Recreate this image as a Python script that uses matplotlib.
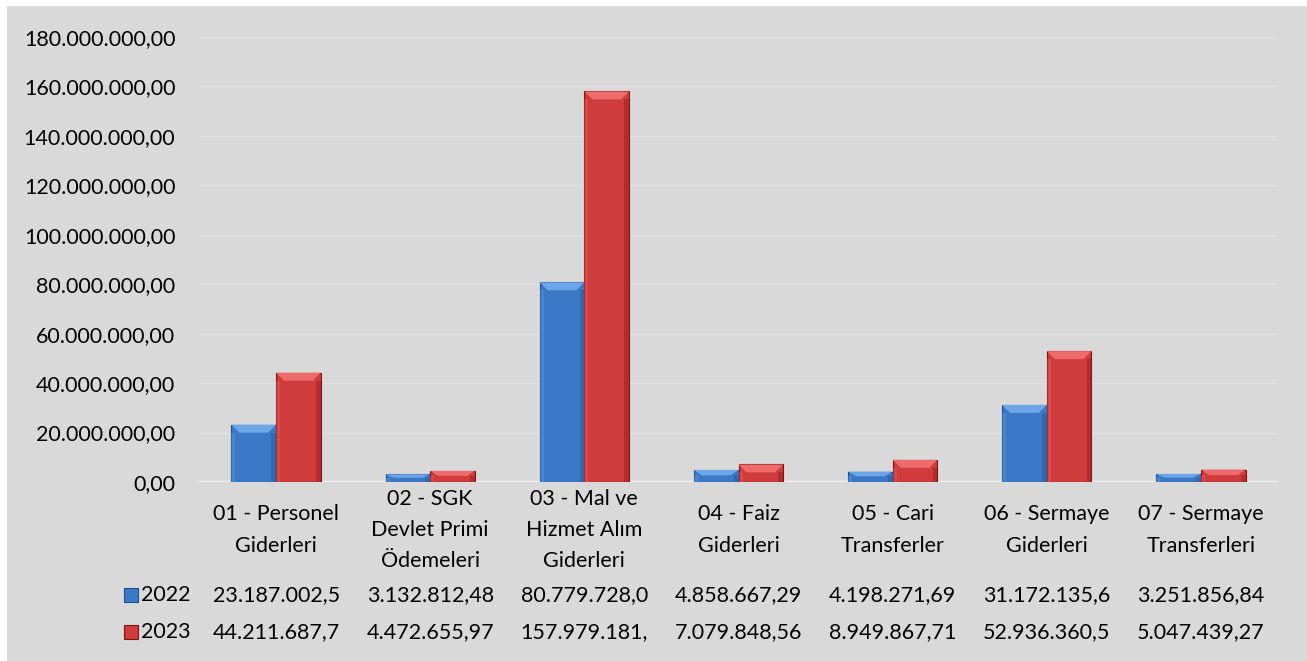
import matplotlib.pyplot as plt
from matplotlib.patches import Rectangle, Polygon
import numpy as np

# === DATA ===
categories = [
    "01 - Personel\nGiderleri",
    "02 - SGK\nDevlet Primi\nÖdemeleri",
    "03 - Mal ve\nHizmet Alım\nGiderleri",
    "04 - Faiz\nGiderleri",
    "05 - Cari\nTransferler",
    "06 - Sermaye\nGiderleri",
    "07 - Sermaye\nTransferleri",
]
series_names = ["2022", "2023"]
values_2022 = [23187002.50, 3132812.48, 80779728.00, 4858667.29,
               4198271.69, 31172135.60, 3251856.84]
values_2023 = [44211687.70, 4472655.97, 157979181.00, 7079848.56,
               8949867.71, 52936360.50, 5047439.27]
y_ticks = [0, 20e6, 40e6, 60e6, 80e6, 100e6, 120e6, 140e6, 160e6, 180e6]

# === STYLE ===
BG = "#D9D9D9"
FONT = "Lato"
FS = 15.5
colors = {"2022": ("#3B78C6", "#6CA5E8", "#1F4E8C"),
          "2023": ("#D03B3B", "#EE6B6B", "#7E1515")}


def tr_fmt(v, dec=2):
    s = f"{v:,.{dec}f}"
    return s.replace(",", "X").replace(".", ",").replace("X", ".")


W, H = 1307, 661
fig = plt.figure(figsize=(W / 100, H / 100), dpi=100)
fig.patch.set_facecolor("white")
fig.add_artist(Rectangle((7 / W, 0), 1 - 7 / W, 1 - 6 / H,
                         transform=fig.transFigure, facecolor=BG,
                         edgecolor="none", zorder=-10))

left, right = 199 / W, 1278 / W
bottom, top = 1 - 482 / H, 1 - 37 / H
ax = fig.add_axes([left, bottom, right - left, top - bottom])
ax.set_facecolor("none")

n = len(categories)
x = np.arange(n)
bw = 0.29
ax.set_xlim(-0.5, n - 0.5)
ax.set_ylim(0, 180e6)

for y in y_ticks[1:]:
    ax.axhline(y, color="#E0E0E0", lw=1, zorder=0)
ax.axhline(0, color="#EFEFEF", lw=2.5, zorder=1)

# beveled bars
for vals, name, off in [(values_2022, "2022", -bw / 2), (values_2023, "2023", bw / 2)]:
    base, light, dark = colors[name]
    bars = ax.bar(x + off, vals, width=bw, color=base, edgecolor=dark,
                  linewidth=0.8, zorder=3)
    for b in bars:
        bx, by, bwid, bh = b.get_x(), b.get_y(), b.get_width(), b.get_height()
        bev_x = bwid * 0.18
        bev_y = min(180e6 * 0.018, bh * 0.45)
        top_y = by + bh
        ax.add_patch(Polygon([(bx, top_y), (bx + bwid, top_y),
                              (bx + bwid - bev_x, top_y - bev_y),
                              (bx + bev_x, top_y - bev_y)],
                             closed=True, facecolor=light, edgecolor="none", zorder=4))
        ax.add_patch(Rectangle((bx + bwid - bev_x * 0.6, by), bev_x * 0.6, bh - bev_y,
                               facecolor=dark, alpha=0.35, edgecolor="none", zorder=4))
        ax.add_patch(Rectangle((bx, by), bev_x * 0.5, bh - bev_y,
                               facecolor=light, alpha=0.3, edgecolor="none", zorder=4))

for s in ax.spines.values():
    s.set_visible(False)
ax.set_yticks(y_ticks)
ax.set_yticklabels([tr_fmt(v) for v in y_ticks], fontsize=FS, family=FONT)
ax.tick_params(axis="y", length=0, pad=17)
ax.set_xticks([])


def fig_to_axes_y(py):
    return (1 - py / H - bottom) / (top - bottom)


# category labels and data table
blend = ax.get_xaxis_transform()
for i, cat in enumerate(categories):
    ax.text(i, fig_to_axes_y(530), cat, transform=blend,
            ha="center", va="center", fontsize=FS, family=FONT,
            linespacing=1.7, clip_on=False)

row_y = {"2022": 595, "2023": 632}
for vals, name in [(values_2022, "2022"), (values_2023, "2023")]:
    for i, v in enumerate(vals):
        ax.text(i, fig_to_axes_y(row_y[name]), tr_fmt(v)[:12], transform=blend,
                ha="center", va="center", fontsize=FS, family=FONT, clip_on=False)
    base, light, dark = colors[name]
    fig.add_artist(Rectangle((124 / W, 1 - (row_y[name] + 7) / H), 14 / W, 14 / H,
                             transform=fig.transFigure, facecolor=base,
                             edgecolor=dark, lw=0.8))
    fig.text(141 / W, 1 - row_y[name] / H, name, ha="left", va="center",
             fontsize=FS, family=FONT)

fig.savefig("out.png", dpi=100, facecolor=fig.get_facecolor())
